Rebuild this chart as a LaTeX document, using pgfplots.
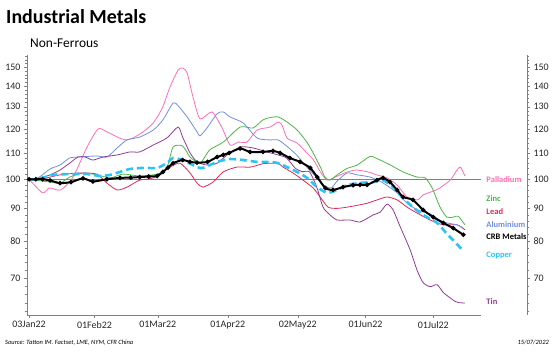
\documentclass[border=0pt]{standalone}
\usepackage{pgfplots}
\pgfplotsset{compat=1.18}
\usepackage{fontspec}
\setmainfont{Carlito}
\definecolor{pall}{HTML}{FF6EB4}
\definecolor{zinc}{HTML}{4DB548}
\definecolor{lead}{HTML}{E2285A}
\definecolor{alu}{HTML}{6F8FE0}
\definecolor{copper}{HTML}{2CC4F4}
\definecolor{tin}{HTML}{8E3C96}
\definecolor{axgray}{HTML}{808080}
\begin{document}
\begin{tikzpicture}
\useasboundingbox (0,0) rectangle (553bp,353bp);
\node[anchor=base west, inner sep=0pt, font=\fontsize{20}{24}\selectfont\bfseries] at (6bp,329bp) {Industrial Metals};
\node[anchor=base west, inner sep=0pt, font=\fontsize{13.5}{16}\selectfont] at (30bp,305bp) {Non-Ferrous};
\node[anchor=base west, inner sep=0pt, font=\fontsize{6.5}{8}\selectfont\itshape] at (5bp,9bp) {Source: Tatton IM. Factset, LME, NYM, CFR China};
\node[anchor=base east, inner sep=0pt, font=\fontsize{6.5}{8}\selectfont\itshape] at (549bp,9bp) {15/07/2022};
\begin{axis}[
  at={(27bp,38bp)}, anchor=south west,
  scale only axis, width=500bp, height=260bp,
  ymode=log, xmin=-0.9, xmax=220.5, ymin=61.2, ymax=156.8,
  axis lines*=left,
  x axis line style={draw=none},
  y axis line style={axgray},
  tick style={axgray},
  tick align=outside,
  major tick length=3bp, minor tick length=1.8bp,
  xtick={0,29,57,88,119,149,179},
  xticklabels={03Jan22,01Feb22,01Mar22,01Apr22,02May22,01Jun22,01Jul22},
  ytick={70,80,90,100,110,120,130,140,150},
  yticklabels={70,80,90,100,110,120,130,140,150},
  minor ytick={62,64,66,68,72,74,76,78,82,84,86,88,92,94,96,98,102,104,106,108,112,114,116,118,122,124,126,128,132,134,136,138,142,144,146,148,152,154,156},
  /pgf/number format/assume math mode=true,
  ticklabel style={font=\fontsize{10}{12}\selectfont, text=black!85},
  clip=false,
  every axis plot/.append style={smooth, tension=0.4},
]
\draw[axgray, line width=0.6pt] (rel axis cs:0,0) -- (axis cs:200,61.2);
\draw[axgray, line width=0.7pt] (axis cs:-0.9,100) -- (axis cs:200,100);
% Palladium
\addplot[pall, line width=0.8pt, no marks] coordinates {
(0,100) (6,95.2) (9,96.9) (14,96.2) (19.5,100.8) (25.7,112.4) (30.6,120) (34.5,118.7) (40,116.1) (43,115.3) (46,116.1) (50.5,118.7) (55,122.6) (59,129.4) (62.4,139.6) (66,148.5) (68,149.6) (70,146.9) (72.6,134.7) (75.7,124.4) (81,127.6) (85.5,120.4) (89,113.2) (92.6,114.4) (96.5,114.4) (101,119.5) (106.7,120.8) (110.3,123) (112,121.7) (114.3,116) (118.7,114) (123,110) (126,107.2) (129,102.7) (132,99.7) (135.5,100.8) (141,102.7) (145,103.4) (150,102.7) (154,101.6) (158.5,100.5) (163,97.9) (167.4,93.8) (172,92.8) (174.5,94.5) (181,96.5) (186.5,99.7) (189.5,103.4) (191,104.5) (193,101.2)
};
% Zinc
\addplot[zinc, line width=0.8pt, no marks] coordinates {
(0,100) (9.3,99) (13.7,98.6) (18,100.8) (24,102.3) (30,101.6) (36,100.5) (41.6,101.9) (49,101.2) (56.7,101.9) (61,104.2) (63.8,112.4) (68,112.8) (71.3,108.4) (75.7,106) (80,111.2) (86,114.4) (93.5,120.8) (99.2,120.4) (103.6,124) (106.7,125) (110.3,125.3) (114.3,123) (118.7,119.5) (123,114.4) (125.8,110) (129,104.5) (131,100.8) (133.3,99.7) (136.4,101.6) (140.8,104) (145.3,105.3) (151,108.6) (154.5,107.6) (160,105.3) (165.6,102.7) (171.8,100.8) (175.4,100.5) (178.5,96.9) (182,90.4) (185,87.2) (187.8,87.2) (190,87.5) (193,84.8)
};
% Lead
\addplot[lead, line width=0.8pt, no marks] coordinates {
(0,100) (5,100) (13.7,101.6) (22.6,102.3) (30,101.9) (34.5,98.6) (39,96.2) (43.4,97.2) (49,99.7) (55,100.5) (62.4,104.5) (66.8,106) (71.3,102.3) (74.4,98.6) (77,97.2) (81.5,99) (86,102.7) (92,104.5) (98,104.5) (103.6,105.8) (108,106) (110.3,106) (112.5,104.5) (116.9,102.3) (121.3,99.7) (125.8,96.9) (128.9,93.8) (132.4,90.4) (136.4,90) (140.8,90.4) (145.3,91) (149.7,91.7) (154.1,92.8) (158.5,93.8) (163,92.8) (167.4,90.4) (171.8,88.5) (177.6,86.3) (183.4,84.8) (189.5,84.8) (193,83.3)
};
% Aluminium
\addplot[alu, line width=0.8pt, no marks] coordinates {
(0,100) (4,100.5) (9.3,103.8) (13.7,105.3) (18,108) (22.6,108.4) (30,108.8) (34.5,108.4) (39,112) (43.4,115.3) (49,116.5) (55,119.5) (59.3,124) (63.8,131.8) (66,130.5) (70,125.3) (74.4,118.7) (75.7,117) (78.8,120.4) (83.3,126.8) (86,127.6) (89,125.3) (94.8,122.6) (101,116.1) (106.7,115.3) (110.3,115.3) (114.3,112.6) (118.7,109) (123,104.5) (127,101) (131,97.5) (134,97) (136,99) (140.8,102.3) (145.3,101.6) (151,100.8) (156.7,98.7) (163,95.2) (167.4,91.7) (172,89.5) (177.6,88.2) (183.4,85.7) (189.5,84.8) (192.3,83.8)
};
% Tin
\addplot[tin, line width=0.8pt, no marks] coordinates {
(0,100) (5,100.5) (9.3,101.6) (13.7,103.4) (18,106) (21.7,108.4) (24.8,108.4) (28.3,107.2) (32.8,108.4) (39,109.2) (44.7,110.4) (49,110.4) (55,113.2) (61,116.1) (66,120.8) (68,116.5) (71.3,110) (74.4,106.5) (78.8,105.3) (83.3,106) (87.7,109.2) (93.5,112.4) (99.2,112) (105.3,110.4) (110.3,109.2) (114,108) (118,104) (121,102.8) (124.2,102.7) (127.4,97.2) (130.2,90.4) (133.3,87.9) (136.4,86.3) (142.2,86.3) (146.6,85.7) (152.4,87.9) (155.5,88.8) (158.5,91.4) (161.2,89.5) (164.3,84.3) (168.8,77.4) (171.8,72) (174.5,68.8) (177.6,67.8) (180.7,68.3) (183.4,66.4) (186.5,65.1) (188.6,64.3) (190.3,64) (193,63.9)
};
% Copper
\addplot[copper, line width=2.6pt, dash pattern=on 7pt off 4pt, no marks] coordinates {
(0,100) (3,100) (8,101) (10.5,101.6) (13.7,101.8) (19.5,101.9) (25.7,101.9) (31.4,101.2) (35.9,101.6) (40.3,102.7) (44.7,103.8) (50.5,104.2) (56.7,104.2) (61,106) (63.8,108) (68,107.2) (74.4,104.5) (77,104.2) (83.3,106.5) (89,107.6) (94.8,107.2) (101,106.5) (106.7,106.5) (110.3,106) (114.3,104.5) (118.7,102.7) (123.1,100.5) (127.6,97.2) (132,95.2) (136.4,96.2) (140.8,97.9) (146.6,98.7) (152.4,99) (156.7,99.7) (161.2,97.2) (165.6,93.4) (170,90.4) (174.5,87.9) (180.7,85.4) (185,82.1) (188.6,79.7) (191.8,77.5)
};
% CRB Metals
\addplot[black, line width=2pt, mark=*, mark size=1.1pt, mark options={solid}] coordinates {
(0,100) (3,100) (6,100) (9.3,99.6) (13.7,98.6) (18.6,99) (23.9,100.3) (28.3,99.2) (34.5,100) (40.3,100.5) (45,100.6) (49,100.8) (53,101) (56.7,101.2) (59.3,102.7) (61.5,104.3) (63.8,106) (68,107.2) (71.3,106.5) (74.4,106.2) (79,106.5) (83.3,108.4) (86,109.2) (88.6,110) (93.5,111.8) (97.9,110.4) (103.6,110.4) (108,110.8) (111.2,110) (115.5,108) (120,106.5) (124.5,104.2) (127.6,100.8) (131.2,96.9) (134.6,96.2) (139,97.2) (143.5,97.9) (146.6,98) (149.7,98) (154.1,99.7) (156.7,100.5) (159.8,99) (163,96.2) (165.6,93.8) (170,92.8) (174.5,89.5) (179,87.2) (183.4,85.4) (187.8,83.8) (192.3,81.8)
};
\begin{scope}[font=\fontsize{8.5}{10}\selectfont\bfseries]
\node[anchor=west, text=pall] at (axis cs:201,100) {Palladium};
\node[anchor=west, text=zinc] at (axis cs:201,93.1) {Zinc};
\node[anchor=west, text=lead] at (axis cs:201,88.9) {Lead};
\node[anchor=west, text=alu] at (axis cs:201,85.0) {Aluminium};
\node[anchor=west, text=black] at (axis cs:201,81.4) {CRB Metals};
\node[anchor=west, text=copper] at (axis cs:201,75.8) {Copper};
\node[anchor=west, text=tin] at (axis cs:201,64.2) {Tin};
\end{scope}
\end{axis}
\begin{axis}[
  at={(27bp,38bp)}, anchor=south west,
  scale only axis, width=500bp, height=260bp,
  ymode=log, xmin=-0.9, xmax=220.5, ymin=61.2, ymax=156.8,
  axis x line=none, axis y line*=right,
  y axis line style={axgray},
  tick style={axgray},
  tick align=outside,
  major tick length=3bp, minor tick length=1.8bp,
  ytick={70,80,90,100,110,120,130,140,150},
  yticklabels={70,80,90,100,110,120,130,140,150},
  minor ytick={62,64,66,68,72,74,76,78,82,84,86,88,92,94,96,98,102,104,106,108,112,114,116,118,122,124,126,128,132,134,136,138,142,144,146,148,152,154,156},
  ticklabel style={font=\fontsize{10}{12}\selectfont, text=black!85},
]
\addplot[draw=none] coordinates {(0,100)};
\end{axis}
\end{tikzpicture}
\end{document}
